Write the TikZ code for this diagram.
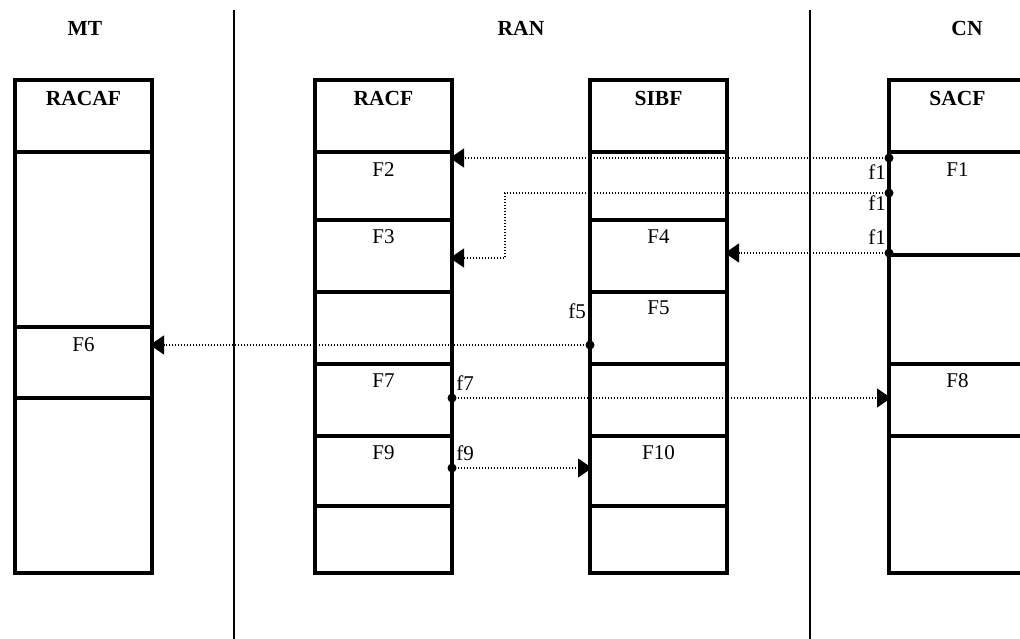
\documentclass[tikz,border=0pt]{standalone}
\usepackage{fontspec}
\setmainfont{Liberation Serif}
\usetikzlibrary{arrows.meta}
\begin{document}
\begin{tikzpicture}[x=1pt,y=-1pt,
  row/.style={draw, line width=4.5pt, minimum width=137pt, anchor=north west, inner sep=0pt, outer sep=0pt},
  ttl/.style={font=\fontsize{21.5}{24}\selectfont\bfseries, inner sep=0pt},
  lab/.style={font=\fontsize{21}{24}\selectfont, inner sep=0pt},
  sep/.style={line width=2.5pt},
  conn/.style={line width=1.4pt, dash pattern=on 1.4pt off 1.6pt, -{Triangle[length=14pt,width=19pt]}, shorten >=-2pt},
  dot/.style={fill=black}
]
\useasboundingbox (0,0) rectangle (1020,639);
% separators
\coordinate (s1t) at (234,10); \coordinate (s1b) at (234,639);
\coordinate (s2t) at (810,10); \coordinate (s2b) at (810,639);
\draw[sep] (s1t) -- (s1b);
\draw[sep] (s2t) -- (s2b);
% headers
\node[ttl] (hMT) at (85,28) {MT};
\node[ttl] (hRAN) at (521,28) {RAN};
\node[ttl] (hCN) at (967,28) {CN};
% RACAF
\node[row, minimum height=72pt]  (racaf0) at (15,80) {};
\node[row, minimum height=175pt] (racaf1) at (15,152) {};
\node[row, minimum height=71pt]  (racaf2) at (15,327) {};
\node[row, minimum height=175pt] (racaf3) at (15,398) {};
% RACF
\node[row, minimum height=72pt] (racf0) at (315,80) {};
\node[row, minimum height=68pt] (racf1) at (315,152) {};
\node[row, minimum height=72pt] (racf2) at (315,220) {};
\node[row, minimum height=72pt] (racf3) at (315,292) {};
\node[row, minimum height=72pt] (racf4) at (315,364) {};
\node[row, minimum height=70pt] (racf5) at (315,436) {};
\node[row, minimum height=67pt] (racf6) at (315,506) {};
% SIBF
\node[row, minimum height=72pt] (sibf0) at (590,80) {};
\node[row, minimum height=68pt] (sibf1) at (590,152) {};
\node[row, minimum height=72pt] (sibf2) at (590,220) {};
\node[row, minimum height=72pt] (sibf3) at (590,292) {};
\node[row, minimum height=72pt] (sibf4) at (590,364) {};
\node[row, minimum height=70pt] (sibf5) at (590,436) {};
\node[row, minimum height=67pt] (sibf6) at (590,506) {};
% SACF
\node[row, minimum height=72pt]  (sacf0) at (889,80) {};
\node[row, minimum height=103pt] (sacf1) at (889,152) {};
\node[row, minimum height=109pt] (sacf2) at (889,255) {};
\node[row, minimum height=72pt]  (sacf3) at (889,364) {};
\node[row, minimum height=137pt] (sacf4) at (889,436) {};
% titles
\node[ttl] (tRACAF) at ([yshift=-18pt]racaf0.north) {RACAF};
\node[ttl] (tRACF) at ([yshift=-18pt]racf0.north) {RACF};
\node[ttl] (tSIBF) at ([yshift=-18pt]sibf0.north) {SIBF};
\node[ttl] (tSACF) at ([yshift=-18pt]sacf0.north) {SACF};
% row labels
\node[lab] (lF1) at ([yshift=-18pt]sacf1.north) {F1};
\node[lab] (lF2) at ([yshift=-18pt]racf1.north) {F2};
\node[lab] (lF3) at ([yshift=-17pt]racf2.north) {F3};
\node[lab] (lF4) at ([yshift=-17pt]sibf2.north) {F4};
\node[lab] (lF5) at ([yshift=-16pt]sibf3.north) {F5};
\node[lab] (lF6) at ([yshift=-18pt]racaf2.north) {F6};
\node[lab] (lF7) at ([yshift=-17pt]racf4.north) {F7};
\node[lab] (lF8) at ([yshift=-17pt]sacf3.north) {F8};
\node[lab] (lF9) at ([yshift=-17pt]racf5.north) {F9};
\node[lab] (lF10) at ([yshift=-17pt]sibf5.north) {F10};
% connector endpoints
\path (sacf1.north west) ++(0,6) coordinate (a1);
\path (sacf1.north west) ++(0,41) coordinate (a2);
\path (sacf2.north west) ++(0,-2) coordinate (a3);
\path (sibf3.north west) ++(0,53) coordinate (a4);
\path (racf4.north east) ++(0,34) coordinate (a5);
\path (racf5.north east) ++(0,32) coordinate (a6);
\coordinate (b2a) at (505,193);
\path (racf2.north east) ++(0,38) coordinate (b2e);
\coordinate (b2b) at (b2a |- b2e);
% connectors
\draw[conn] (a1) -- (racf1.east |- a1);
\draw[conn] (a2) -- (b2a) -- (b2b) -- (b2e);
\draw[conn] (a3) -- (sibf2.east |- a3);
\draw[conn] (a4) -- (racaf2.east |- a4);
\draw[conn] (a5) -- (sacf3.west |- a5);
\draw[conn] (a6) -- (sibf5.west |- a6);
\foreach \p in {a1,a2,a3,a4,a5,a6} \fill[dot] (\p) circle (4.5pt);
% port labels
\node[lab, anchor=east] (p1a) at (886,172) {f1};
\node[lab, anchor=east] (p1b) at (886,203) {f1};
\node[lab, anchor=east] (p1c) at (886,237) {f1};
\node[lab] (p5) at (577,311) {f5};
\node[lab] (p7) at (465,383) {f7};
\node[lab] (p9) at (465,453) {f9};
\end{tikzpicture}
\end{document}
